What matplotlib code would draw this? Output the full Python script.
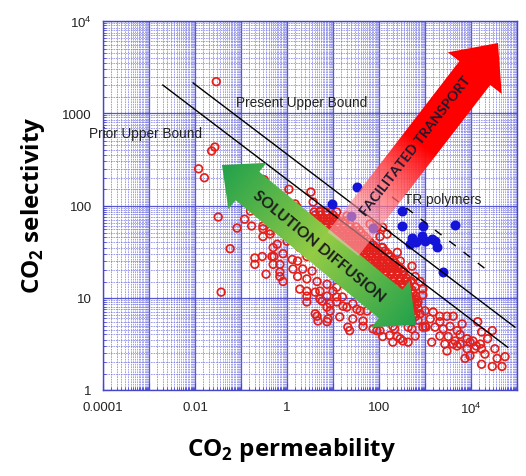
import numpy as np
import matplotlib
matplotlib.use("Agg")
import matplotlib.pyplot as plt
from matplotlib.patches import Polygon
from matplotlib.ticker import LogLocator, NullFormatter

plt.rcParams['font.family'] = ['Liberation Sans', 'DejaVu Sans']
plt.rcParams['mathtext.fontset'] = 'custom'
plt.rcParams['mathtext.rm'] = 'Liberation Sans'
plt.rcParams['mathtext.bf'] = 'Open Sans:bold'

# ---- data (CO2 permeability, CO2 selectivity) ----
# polymer membranes, open red circles
red_perm = [
    # scattered, low permeability
    0.029, 0.027, 0.023, 0.012, 0.016, 0.32, 1.1, 3.3, 0.032, 0.058, 0.037,
    0.12, 0.17, 0.082, 0.16, 0.20, 0.20, 0.29, 0.35, 0.52, 0.50, 0.70, 0.82,
    0.30, 0.43, 0.30, 1.5, 5.2, 0.50,
    # middle of the cloud
    0.30, 0.43, 0.47, 0.70, 1.3, 1.35, 1.7, 2.7, 4.1, 4.1, 4.7, 7.4, 8.6, 14,
    21, 23, 45, 74, 90, 120, 250, 330, 520, 900, 610, 5.8, 10, 16, 20, 27, 39,
    1.65, 1.05, 0.78, 1.3, 1.9, 2.7, 3.5, 4.5, 7.4, 12, 18, 2.2, 2.7, 1.7,
    0.82, 0.70, 0.61, 1.0, 1.65, 105, 120, 170, 200, 290, 330, 410, 520, 610,
    780, 900, 550, 670, 780, 1000, 330, 250, 150, 90, 120, 64, 5.2, 7.8, 12,
    33, 55, 8.6, 7.4, 200, 430, 430, 290, 220,
    4.5, 7.4, 16.5, 27, 45, 105, 170, 200, 12, 2.7, 1.9, 2.7, 5.2, 3.7, 12, 20,
    # high permeability group
    900, 1050, 1400, 2100, 3000, 4100, 2100, 2500, 3500, 5000, 3200, 4500,
    5800, 8200, 11000, 16000, 8200, 12000, 17000, 20000, 3000, 5000, 7400,
    9500, 14000, 17000, 29000, 17000, 29000, 37000, 47000, 2100, 1650, 1000,
    1500, 13000, 4100, 9500, 1300, 6400, 23000, 33000, 55000, 5800, 2700,
    # dense core
    3.9, 5.2, 7.0,
    3.5, 4.7, 6.4, 8.6, 11.6,
    3.9, 5.2, 7.0, 9.5, 12.8, 17.3, 23.4,
    4.5, 6.1, 8.2, 11, 14.9, 20, 27, 37,
    5.8, 7.8, 10.5, 14.2, 19.2, 26, 35, 47,
    7.8, 10.5, 14.2, 19.2, 26, 35, 47, 64,
    10.5, 14.2, 19.2, 26, 35, 47, 64, 86, 116,
    14.2, 19.2, 26, 35, 47, 64, 86, 116, 157,
    18.2, 24.6, 33, 45, 61, 82, 110, 149, 201,
    23.4, 31.6, 42.7, 57.7, 78, 105, 142, 192, 259,
    31.6, 42.7, 57.7, 78, 105, 142, 192, 259, 349,
    47, 64, 86, 116, 157, 212, 286, 387,
    70, 95, 128, 173, 234, 316, 427,
    116, 157, 212, 286, 387, 521,
    192, 259, 349, 472, 637,
    286, 387, 521, 705,
    387, 521, 705,
    472, 637,
    521, 705,
    # dense core, in-between rows
    4.1, 5.5, 7.4, 10,
    4.1, 5.5, 7.4, 10, 13.5, 18.2,
    5.2, 7.0, 9.5, 12.8, 17.3, 23.4, 31.6,
    6.7, 9.1, 12.2, 16.5, 22.3, 30, 40.6,
    9.1, 12.2, 16.5, 22.3, 30, 40.6, 55,
    12.2, 16.5, 22.3, 30, 40.6, 55, 74,
    16.5, 22.3, 30, 40.6, 55, 74, 100, 135,
    21.2, 28.6, 38.6, 52, 70, 95, 128, 173,
    27.2, 36.7, 49.6, 67, 90.5, 122, 165, 223,
    36.7, 49.6, 67, 90.5, 122, 165, 223, 301,
    55, 74, 100, 135, 182, 246, 333,
    82, 110, 149, 201, 272, 367, 497,
    135, 182, 246, 333, 449, 607,
    223, 301, 406, 548,
    333, 449, 607,
    449, 607,
    548,
    607,
]
red_sel = [
    2200, 430, 390, 250, 200, 190, 150, 140, 75, 34, 11.5,
    71, 60, 57, 87, 27, 23, 28, 18, 28, 23, 17, 15,
    56, 49, 46, 104, 87, 35,
    60, 53, 28, 19, 26, 20.5, 17, 11.8, 11.5, 6.7, 5.6, 5.5, 7.2, 6.2,
    4.8, 4.4, 5.6, 4.6, 4.4, 3.8, 3.8, 3.4, 4.6, 4.8, 3.85, 9.2, 11.8, 10.2, 7.9, 8.6, 7.2,
    96, 81, 68, 47, 35, 28, 19.5, 15, 14, 13, 14, 20.5, 16, 25,
    30, 23, 38, 41, 52, 46, 35, 28, 22, 25, 19.5, 15, 22, 17,
    15, 12.4, 11, 8.6, 6.7, 4.9, 10.2, 31, 49, 58, 58, 63, 11.8, 5.9, 9.0,
    7.5, 7.2, 8.6, 10.4, 3.3, 3.3, 4.8, 3.6, 4.6,
    6.3, 7.9, 8.1, 5.9, 4.9, 4.4, 3.9, 4.9, 10.2, 10.4, 12.4, 9.0, 9.7, 109, 85, 77,
    10.7, 4.8, 3.3, 6.3, 6.3, 6.3, 5.5, 4.6, 4.9, 4.4, 3.8, 3.4,
    3.15, 3.6, 3.4, 3.15, 2.8, 2.8, 2.8, 2.45, 2.65, 3.0, 2.2,
    2.35, 5.5, 4.25, 4.4, 1.9, 1.8, 2.2, 1.8, 3.85, 4.8, 7.2,
    7.0, 3.0, 3.15, 3.3, 5.9, 5.2, 3.6, 2.8, 2.3, 4.0, 3.15,
    85, 85, 85,
    73, 73, 73, 73, 73,
    63, 63, 63, 63, 63, 63, 63,
    54, 54, 54, 54, 54, 54, 54, 54,
    47, 47, 47, 47, 47, 47, 47, 47,
    40, 40, 40, 40, 40, 40, 40, 40,
    35, 35, 35, 35, 35, 35, 35, 35, 35,
    30, 30, 30, 30, 30, 30, 30, 30, 30,
    25.6, 25.6, 25.6, 25.6, 25.6, 25.6, 25.6, 25.6, 25.6,
    22, 22, 22, 22, 22, 22, 22, 22, 22,
    19, 19, 19, 19, 19, 19, 19, 19, 19,
    16.4, 16.4, 16.4, 16.4, 16.4, 16.4, 16.4, 16.4,
    14.1, 14.1, 14.1, 14.1, 14.1, 14.1, 14.1,
    12.1, 12.1, 12.1, 12.1, 12.1, 12.1,
    10.4, 10.4, 10.4, 10.4, 10.4,
    9.0, 9.0, 9.0, 9.0,
    7.7, 7.7, 7.7,
    6.7, 6.7,
    5.7, 5.7,
    79, 79, 79, 79,
    68, 68, 68, 68, 68, 68,
    58.5, 58.5, 58.5, 58.5, 58.5, 58.5, 58.5,
    50.3, 50.3, 50.3, 50.3, 50.3, 50.3, 50.3,
    43.4, 43.4, 43.4, 43.4, 43.4, 43.4, 43.4,
    37.3, 37.3, 37.3, 37.3, 37.3, 37.3, 37.3,
    32.1, 32.1, 32.1, 32.1, 32.1, 32.1, 32.1, 32.1,
    27.7, 27.7, 27.7, 27.7, 27.7, 27.7, 27.7, 27.7,
    23.8, 23.8, 23.8, 23.8, 23.8, 23.8, 23.8, 23.8,
    20.5, 20.5, 20.5, 20.5, 20.5, 20.5, 20.5, 20.5,
    17.7, 17.7, 17.7, 17.7, 17.7, 17.7, 17.7,
    15.2, 15.2, 15.2, 15.2, 15.2, 15.2, 15.2,
    13.1, 13.1, 13.1, 13.1, 13.1, 13.1,
    11.3, 11.3, 11.3, 11.3,
    9.7, 9.7, 9.7,
    8.3, 8.3,
    7.2,
    6.2,
]

# TR polymers, filled blue circles
tr_perm = [9.5, 33, 24.6, 74, 316, 316, 905, 4490, 521, 472, 861, 1000,
           1420, 1650, 1820, 637, 2460]
tr_sel = [104, 158, 77, 57, 87, 60, 60, 61.5, 44, 38, 46.7, 41,
          43.4, 41, 35.5, 40, 19]

# upper bound lines (end points)
prior_perm = [0.002, 63000]
prior_sel = [2020, 2.9]
present_perm = [0.0091, 90000]
present_sel = [2130, 4.8]
tr_line_perm = [192, 28600]
tr_line_sel = [124, 18.1]

x_major = [1e-4, 1e-3, 1e-2, 1e-1, 1, 10, 100, 1e3, 1e4, 1e5]
x_labels = ['0.0001', '', '0.01', '', '1', '', '100', '', r'$10^4$', '']
y_major = [1, 10, 100, 1000, 1e4]
y_labels = ['1', '10', '100', '1000', r'$10^4$']

W, H = 526, 477
fig = plt.figure(figsize=(W / 100, H / 100), dpi=100)
ax = fig.add_axes([103 / W, 86 / H, 414 / W, 369 / H])
ax.set_xscale('log')
ax.set_yscale('log')
ax.set_xlim(1e-4, 1e5)
ax.set_ylim(1, 1e4)

blue = '#4646cc'
subs = np.arange(1.5, 10, 0.5)
ax.xaxis.set_minor_locator(LogLocator(base=10, subs=subs, numticks=100))
ax.yaxis.set_minor_locator(LogLocator(base=10, subs=subs, numticks=100))
ax.xaxis.set_minor_formatter(NullFormatter())
ax.yaxis.set_minor_formatter(NullFormatter())
ax.set_xticks(x_major)
ax.set_xticklabels(x_labels)
ax.set_yticks(y_major)
ax.set_yticklabels(y_labels)
ax.grid(which='major', color=blue, lw=0.9, alpha=0.9)
ax.grid(which='minor', color='#6d6de0', lw=0.6, ls=(0, (2, 1)), alpha=0.75)
ax.set_axisbelow(True)
ax.tick_params(which='major', direction='in', length=5, color=blue,
               labelsize=9.5, labelcolor='#222222', pad=8)
ax.tick_params(which='minor', direction='in', length=2, color=blue)
for s in ax.spines.values():
    s.set_color(blue)
    s.set_linewidth(1.0)

ax.scatter(red_perm, red_sel, s=30, facecolors='none', edgecolors='#e3201b',
           linewidths=1.25, zorder=3)
ax.scatter(tr_perm, tr_sel, s=38, color='#1414d8', zorder=4)

ax.plot(prior_perm, prior_sel, color='black', lw=1.0, zorder=5)
ax.plot(present_perm, present_sel, color='black', lw=1.0, zorder=5)
ax.plot(tr_line_perm, tr_line_sel, color='black', lw=1.0, ls=(0, (6, 7)), zorder=5)

ax.text(2.1, 1325, 'Present Upper Bound', fontsize=9.8, ha='center', va='center', color='#222222')
ax.text(0.00082, 611, 'Prior Upper Bound', fontsize=9.8, ha='center', va='center', color='#222222')
ax.text(2460, 118, 'TR polymers', fontsize=9.8, ha='center', va='center', color='#222222')

# ---- gradient arrows on a pixel overlay ----
ov = fig.add_axes([0, 0, 1, 1], zorder=10)
ov.set_xlim(0, W)
ov.set_ylim(H, 0)
ov.axis('off')
ov.patch.set_alpha(0)

def arrow_poly(p0, p1, shaft, head_w, head_len, double=False):
    p0, p1 = np.array(p0, float), np.array(p1, float)
    u = (p1 - p0) / np.linalg.norm(p1 - p0)
    n = np.array([-u[1], u[0]])
    hs, hh = shaft / 2, head_w / 2
    b1 = p1 - u * head_len
    if double:
        b0 = p0 + u * head_len
        return [p0, b0 + n * hh, b0 + n * hs, b1 + n * hs, b1 + n * hh, p1,
                b1 - n * hh, b1 - n * hs, b0 - n * hs, b0 - n * hh]
    return [p0 + n * hs, b1 + n * hs, b1 + n * hh, p1, b1 - n * hh,
            b1 - n * hs, p0 - n * hs]

def along(p0, p1):
    xs, ys = np.meshgrid(np.arange(W) + 0.5, np.arange(H) + 0.5)
    d = np.array(p1, float) - np.array(p0, float)
    t = ((xs - p0[0]) * d[0] + (ys - p0[1]) * d[1]) / (d @ d)
    return np.clip(t, 0, 1)

# green double arrow: solution diffusion
g0, g1 = (222, 166), (416, 326)
t = along(g0, g1)
w = 1 - np.abs(2 * t - 1)
dark = np.array([0.13, 0.63, 0.30])
light = np.array([0.58, 0.80, 0.27])
img = np.zeros((H, W, 4))
img[..., :3] = dark + (light - dark) * w[..., None]
img[..., 3] = 1
poly = Polygon(arrow_poly(g0, g1, 37, 60, 33, double=True), closed=True,
               facecolor='none', edgecolor='none')
ov.add_patch(poly)
im = ov.imshow(img, extent=(0, W, H, 0), origin='upper', zorder=11)
im.set_clip_path(poly)
ang = np.degrees(np.arctan2(-(g1[1] - g0[1]), g1[0] - g0[0]))
ov.text((g0[0] + g1[0]) / 2, (g0[1] + g1[1]) / 2 + 1, 'SOLUTION DIFFUSION',
        family=['Lato', 'DejaVu Sans'], weight='bold', fontsize=11.2,
        color='#1c1c1c', rotation=ang, rotation_mode='anchor',
        ha='center', va='center', zorder=13)

# red arrow: facilitated transport
r0, r1 = (343, 245), (498, 44)
t = along(r0, r1)
s = np.clip(t / 0.5, 0, 1)
img = np.zeros((H, W, 4))
img[..., 0] = 1
img[..., 1] = 0.78 * (1 - s)
img[..., 2] = 0.82 * (1 - s)
img[..., 3] = 0.5 + 0.5 * s
poly = Polygon(arrow_poly(r0, r1, 39, 68, 38), closed=True,
               facecolor='none', edgecolor='none')
ov.add_patch(poly)
im = ov.imshow(img, extent=(0, W, H, 0), origin='upper', zorder=12)
im.set_clip_path(poly)
ang = np.degrees(np.arctan2(-(r1[1] - r0[1]), r1[0] - r0[0]))
ov.text(416, 146, 'FACILITATED TRANSPORT',
        family=['Lato', 'DejaVu Sans'], weight='bold', fontsize=10,
        color='#1a1a30', rotation=ang, rotation_mode='anchor',
        ha='center', va='center', zorder=13)

# axis titles
fig.text(33 / W, 1 - 205 / H, r'CO$_\mathbf{2}$ selectivity', rotation=90,
         family=['Open Sans', 'DejaVu Sans'], weight='bold', fontsize=17.5,
         ha='center', va='center')
fig.text(292 / W, 1 - 450 / H, r'CO$_\mathbf{2}$ permeability',
         family=['Open Sans', 'DejaVu Sans'], weight='bold', fontsize=17.5,
         ha='center', va='center')

fig.savefig('out.png', dpi=100)
